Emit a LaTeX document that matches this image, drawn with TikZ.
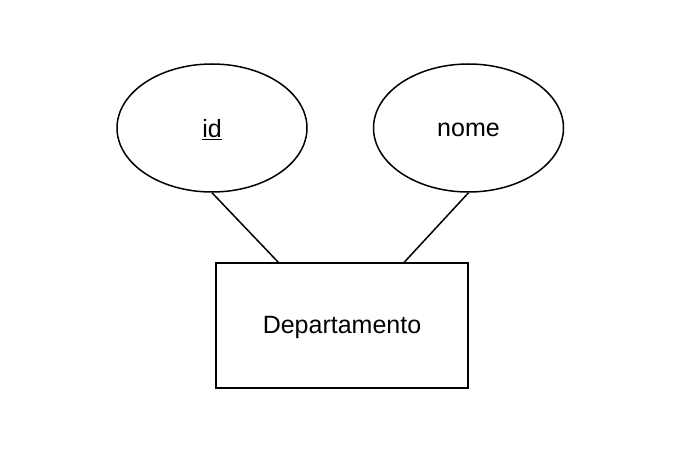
\documentclass[tikz,border=0pt]{standalone}
\usepackage{fontspec}
\setmainfont{Liberation Sans}
\usetikzlibrary{shapes.geometric,calc}
\begin{document}
\begin{tikzpicture}[x=1pt,y=1pt,
  lbl/.style={font=\fontsize{25}{28}\selectfont},
  attr/.style={ellipse,draw,line width=1.5pt,minimum width=190pt,minimum height=128pt,inner sep=0pt},
  ent/.style={rectangle,draw,line width=1.5pt,minimum width=252pt,minimum height=125pt,inner sep=0pt},
  link/.style={line width=1.5pt}]
\useasboundingbox (0,0) rectangle (681,461);
\fill[white] (0,0) rectangle (681,461);
\node[attr] (id) at (212,333) {};
\node[attr] (nome) at (468.5,333) {};
\node[ent] (dep) at (342,135.5) {};
\node[lbl] (idt) at ($(id.center)+(0,-2)$) {\underline{id}};
\node[lbl] (nomet) at ($(nome.center)+(0,-2)$) {nome};
\node[lbl] (dept) at ($(dep.center)+(0,-2)$) {Departamento};
\coordinate (a) at ($(dep.north west)+(63,0)$);
\coordinate (b) at ($(dep.north west)+(189,0)$);
\draw[link] (id.south) -- (a);
\draw[link] (nome.south) -- (b);
\end{tikzpicture}
\end{document}
